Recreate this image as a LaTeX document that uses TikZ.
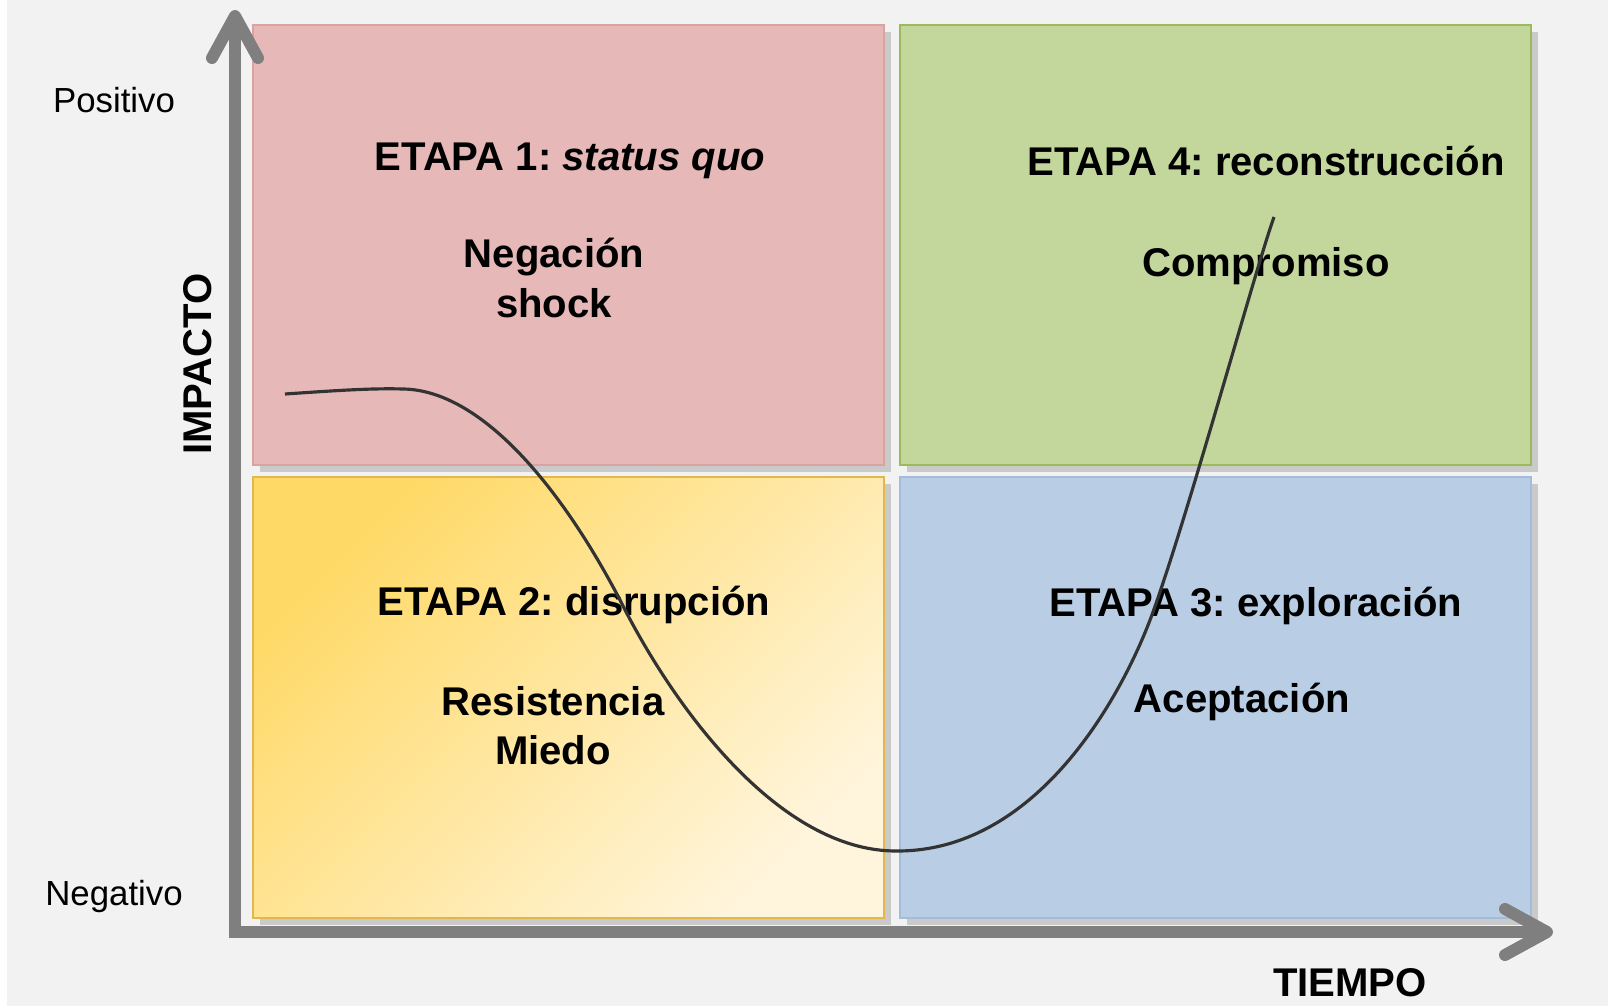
\documentclass[tikz,border=0pt]{standalone}
\usepackage{fontspec}
\setmainfont{Liberation Sans}
\usepackage{xcolor}
\usetikzlibrary{arrows.meta,shadows}
\frenchspacing

\definecolor{fondo}{HTML}{F2F2F2}
\definecolor{ejegris}{HTML}{7F7F7F}
\definecolor{rosa}{HTML}{E6B9B8}
\definecolor{rosaborde}{HTML}{D9A3A2}
\definecolor{verde}{HTML}{C3D69B}
\definecolor{verdeborde}{HTML}{9BBB59}
\definecolor{azul}{HTML}{B9CDE5}
\definecolor{azulborde}{HTML}{A3BCDC}
\definecolor{amarilloA}{HTML}{FFD966}
\definecolor{amarilloB}{HTML}{FFF5DC}
\definecolor{amarilloborde}{HTML}{E2B84C}
\definecolor{curvagris}{HTML}{333333}

\begin{document}
\begin{tikzpicture}[x=0.01cm,y=-0.01cm,
    etapa/.style={draw,rectangle,line width=0.6pt,minimum width=6.31cm,minimum height=4.4cm,
      drop shadow={shadow xshift=0.7mm,shadow yshift=-0.7mm,opacity=0.35}},
    titulo/.style={align=center,font=\fontsize{11.4pt}{14pt}\selectfont\bfseries},
    nota/.style={font=\fontsize{9.9pt}{11pt}\selectfont},
    eje/.style={draw=ejegris,line width=3.4pt,line join=miter,
      {Straight Barb[round,length=0.42cm,width=0.46cm]}-{Straight Barb[round,length=0.42cm,width=0.46cm]}},
    curva/.style={draw=curvagris,line width=0.9pt}]
    % fondo
    \fill[fondo] (0,0) rectangle (1608,1006);
    \fill[white] (0,0) rectangle (7,1006);
    \useasboundingbox (0,0) rectangle (1608,1006);

    % cuadrantes
    \node[etapa,draw=rosaborde,fill=rosa] (etapa1) at (568.5,245) {};
    \node[etapa,draw=verdeborde,fill=verde] (etapa4) at (1215.5,245) {};
    \node[etapa,draw=amarilloborde,top color=amarilloA,bottom color=amarilloB,shading angle=45] (etapa2) at (568.5,697.5) {};
    \node[etapa,draw=azulborde,fill=azul] (etapa3) at (1215.5,697.5) {};

    % ejes
    \coordinate (origen) at (235,932);
    \coordinate (ytip) at (235,10);
    \coordinate (xtip) at (1553,932);
    \draw[eje] (ytip) -- (origen) -- (xtip);

    % textos
    \node[titulo] (t1) at (570,161) {ETAPA 1: \textit{status quo}};
    \node[titulo] (s1) at (554,278) {Negación\\shock};
    \node[titulo] (t4) at (1266,161) {ETAPA 4: reconstrucción};
    \node[titulo] (s4) at (1266,266) {Compromiso};
    \node[titulo] (t2) at (574,605) {ETAPA 2: disrupción};
    \node[titulo] (s2) at (553,726) {Resistencia\\Miedo};
    \node[titulo] (t3) at (1256,606) {ETAPA 3: exploración};
    \node[titulo] (s3) at (1242,702) {Aceptación};

    \node[nota] (pos) at (114,100) {Positivo};
    \node[nota] (neg) at (114,896) {Negativo};
    \node[titulo,rotate=90] (impacto) at (198,364) {IMPACTO};
    \node[titulo] (tiempo) at (1350,983) {TIEMPO};

    % curva del cambio
    \coordinate (c0) at (285,394);
    \coordinate (c1) at (403,389);
    \coordinate (c2) at (620,600);
    \coordinate (c3) at (896,851);
    \coordinate (c4) at (1153,612);
    \coordinate (c5) at (1274,217);
    \draw[curva] (c0) .. controls (330,391) and (370,388) .. (c1)
        .. controls (480,390) and (560,485) .. (c2)
        .. controls (675,710) and (780,851) .. (c3)
        .. controls (1040,852) and (1125,690) .. (c4)
        .. controls (1189,512) and (1256,267) .. (c5);
\end{tikzpicture}
\end{document}
